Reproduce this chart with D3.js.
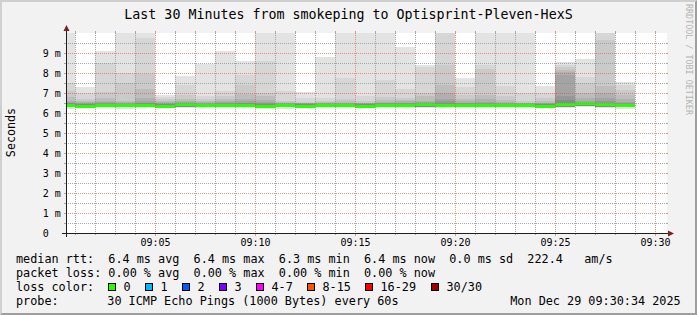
<!DOCTYPE html>
<html>
<head>
<meta charset="utf-8">
<script src="https://cdn.jsdelivr.net/npm/d3@7"></script>
<style>
  body { margin: 0; background: #f2f2f2; }
  svg { display: block; }
  text { font-family: "DejaVu Sans Mono", monospace; white-space: pre; }
</style>
</head>
<body>
<svg id="chart" width="697" height="315"></svg>
<script>
// each sample covers the minute that ends at this time
var minutes = ["09:01","09:02","09:03","09:04","09:05","09:06","09:07","09:08","09:09","09:10",
               "09:11","09:12","09:13","09:14","09:15","09:16","09:17","09:18","09:19","09:20",
               "09:21","09:22","09:23","09:24","09:25","09:26","09:27","09:28","09:29"];

// median rtt (ms)
var median = [6.38,6.37,6.38,6.38,6.38,6.37,6.43,6.42,6.38,6.38,
              6.33,6.40,6.37,6.40,6.38,6.36,6.38,6.42,6.43,6.42,
              6.41,6.38,6.38,6.40,6.37,6.44,6.50,6.43,6.38];

// lowest ping and lower edge of the inner smoke (ms)
var pingMin = [6.20,6.25,6.24,6.22,6.24,6.24,6.26,6.26,6.24,6.24,
               6.22,6.21,6.24,6.25,6.24,6.23,6.24,6.25,6.25,6.24,
               6.25,6.24,6.24,6.25,6.24,6.26,6.28,6.25,6.22];
var pingLow = [6.28,6.29,6.28,6.28,6.28,6.29,6.31,6.31,6.29,6.29,
               6.27,6.28,6.28,6.30,6.29,6.28,6.29,6.31,6.31,6.31,
               6.30,6.29,6.29,6.30,6.29,6.32,6.36,6.31,6.28];

// upper edges of the smoke, outermost (highest ping) first; >10 is off the scale
var smoke1 = [10.5,7.30,9.10,10.5,10.5,6.90,7.85,8.47,9.12,8.58,10.5,10.5,7.03,8.80,10.5,10.5,10.5,9.30,8.40,10.5,7.75,10.5,10.5,10.5,7.33,8.53,8.70,10.5,7.55];
var smoke2 = [7.50,7.00,8.52,8.00,9.75,6.80,7.38,6.85,7.10,7.92,8.62,7.08,6.75,6.75,7.75,6.83,7.67,7.20,8.30,10.5,7.28,8.42,7.33,7.00,7.00,8.42,7.78,10.5,7.38];
var smoke3 = [7.08,6.72,7.05,7.52,7.95,6.70,6.92,6.68,6.83,7.42,7.00,6.60,6.57,6.62,6.70,6.58,6.80,6.75,7.00,8.42,6.92,8.22,6.83,6.58,6.75,8.28,7.50,9.67,7.17];
var smoke4 = [6.80,6.60,6.75,6.60,7.22,6.60,6.70,6.60,6.72,6.97,6.83,6.53,6.52,6.55,6.58,6.52,6.67,6.65,6.83,7.42,6.72,6.92,6.67,6.52,6.60,8.15,7.00,7.33,6.92];
var smoke5 = [6.60,6.55,6.62,6.55,6.75,6.55,6.60,6.55,6.62,6.72,6.65,6.50,6.50,6.50,6.52,6.50,6.57,6.58,6.62,7.00,6.58,6.72,6.55,6.50,6.52,8.05,6.75,7.00,6.72];
var smoke6 = [6.55,6.50,6.55,6.50,6.60,6.50,6.55,6.50,6.55,6.60,6.57,6.48,6.48,6.48,6.50,6.48,6.52,6.52,6.55,6.72,6.52,6.57,6.50,6.48,6.48,7.90,6.58,6.75,6.57];
var smoke7 = [6.50,6.47,6.50,6.47,6.52,6.47,6.50,6.47,6.50,6.52,6.50,6.46,6.46,6.46,6.47,6.46,6.48,6.48,6.50,6.58,6.48,6.50,6.47,6.46,6.46,6.83,6.50,6.58,6.50];
var smoke8 = [6.48,6.45,6.47,6.45,6.48,6.45,6.47,6.45,6.47,6.48,6.47,6.44,6.44,6.44,6.45,6.44,6.45,6.45,6.46,6.50,6.45,6.46,6.45,6.44,6.44,6.67,6.46,6.50,6.46];

var yTicks = [0,1,2,3,4,5,6,7,8,9];
var xLabels = ["09:05","09:10","09:15","09:20","09:25","09:30"];

var lossLabels = ["0","1","2","3","4-7","8-15","16-29","30/30"];
var lossColors = ["#26ff00","#00b8ff","#0059ff","#7e00ff","#ff00ff","#ff5500","#ff0000","#a10000"];

var smokeShades = ["#e3e3e3","#d6d6d6","#cacaca","#bdbdbd","#b0b0b0","#a4a4a4","#979797","#8a8a8a"];
var smokeLevels = [smoke1, smoke2, smoke3, smoke4, smoke5, smoke6, smoke7, smoke8];

var W = 697, H = 315;
var svg = d3.select("#chart");

var parseT = d3.timeParse("%H:%M:%S");
var x = d3.scaleTime()
    .domain([parseT("09:00:34"), parseT("09:30:34")])
    .range([66, 666]);
var y = d3.scaleLinear()
    .domain([0, 10])
    .range([233, 33])
    .clamp(true);

var x0 = x.range()[0], x1 = x.range()[1];
var y0 = y.range()[0], y1 = y.range()[1];

// background + bevel frame
svg.append("rect").attr("width", W).attr("height", H).attr("fill", "#f2f2f2");
svg.append("path").attr("fill", "#cfcfcf")
    .attr("d", "M0,0H" + W + "L" + (W - 2) + ",2H2V" + (H - 2) + "L0," + H + "Z");
svg.append("path").attr("fill", "#9e9e9e")
    .attr("d", "M0," + H + "H" + W + "V0L" + (W - 2) + ",2V" + (H - 2) + "H2Z");

// canvas
svg.append("rect").attr("x", x0).attr("y", y1)
    .attr("width", x1 - x0 + 1).attr("height", y0 - y1)
    .attr("fill", "#ffffff");

svg.append("clipPath").attr("id", "plot")
  .append("rect").attr("x", x0).attr("y", y1)
    .attr("width", x1 - x0 + 1).attr("height", y0 - y1);

var cols = minutes.map(function(m, i) {
  var end = parseT(m + ":00");
  return {i: i, start: d3.timeMinute.offset(end, -1), end: end};
});

var g = svg.append("g").attr("clip-path", "url(#plot)").attr("shape-rendering", "crispEdges");

// smoke, outer bands first, darker ones over them
smokeLevels.forEach(function(level, k) {
  g.append("g").selectAll("rect")
    .data(cols)
    .enter().append("rect")
      .attr("x", function(d) { return x(d.start); })
      .attr("width", function(d) { return x(d.end) - x(d.start); })
      .attr("y", function(d) { return y(level[d.i]); })
      .attr("height", function(d) {
        var lo = k === 0 ? pingMin[d.i] : pingLow[d.i];
        return y(lo) - y(level[d.i]);
      })
      .attr("fill", smokeShades[k]);
});

// median, coloured by loss (all 0 here)
g.append("g").selectAll("rect")
  .data(cols)
  .enter().append("rect")
    .attr("x", function(d) { return x(d.start); })
    .attr("width", function(d) { return x(d.end) - x(d.start); })
    .attr("y", function(d) { return Math.round(y(median[d.i])) - 1.5; })
    .attr("height", 3)
    .attr("fill", lossColors[0]);

// grid
var gridCol = "rgba(143,143,143,0.75)", mgridCol = "rgba(222,79,79,0.6)";
var grid = svg.append("g").attr("shape-rendering", "crispEdges");

var minorT = d3.timeMinute.range(x.domain()[0], x.domain()[1]);
minorT.forEach(function(t) {
  var px = Math.round(x(t)) + 0.5;
  var major = t.getMinutes() % 5 === 0;
  var c = major ? mgridCol : gridCol;
  grid.append("line").attr("x1", px).attr("x2", px).attr("y1", y0 + 1).attr("y2", y1)
      .attr("stroke", c).attr("stroke-dasharray", "1,1");
  grid.append("line").attr("x1", px).attr("x2", px).attr("y1", y0).attr("y2", y0 + (major ? 3 : 2))
      .attr("stroke", c);
  grid.append("line").attr("x1", px).attr("x2", px).attr("y1", y1 - 2).attr("y2", y1)
      .attr("stroke", c);
});

d3.range(0.5, 10, 0.5).forEach(function(v) {
  var py = Math.round(y(v)) + 0.5;
  var major = v % 1 === 0;
  var c = major ? mgridCol : gridCol;
  grid.append("line").attr("x1", x0).attr("x2", x1).attr("y1", py).attr("y2", py)
      .attr("stroke", c).attr("stroke-dasharray", "1,1");
  grid.append("line").attr("x1", x0 - 2).attr("x2", x0).attr("y1", py).attr("y2", py).attr("stroke", c);
  grid.append("line").attr("x1", x1).attr("x2", x1 + 2).attr("y1", py).attr("y2", py).attr("stroke", c);
});

// axes with arrows
var axisCol = "#1f1f1f", arrowCol = "#801f1f";
grid.append("line").attr("x1", x0 - 4).attr("x2", x1 + 4).attr("y1", y0 + 0.5).attr("y2", y0 + 0.5).attr("stroke", axisCol);
grid.append("line").attr("x1", x0 + 0.5).attr("x2", x0 + 0.5).attr("y1", y0 + 4).attr("y2", y1 - 4).attr("stroke", axisCol);
svg.append("path").attr("fill", arrowCol)
    .attr("d", "M" + (x1 + 2) + "," + (y0 - 2.5) + "L" + (x1 + 2) + "," + (y0 + 3.5) + "L" + (x1 + 8) + "," + (y0 + 0.5) + "Z");
svg.append("path").attr("fill", arrowCol)
    .attr("d", "M" + (x0 - 2.5) + "," + (y1 - 2) + "L" + (x0 + 3.5) + "," + (y1 - 2) + "L" + (x0 + 0.5) + "," + (y1 - 8) + "Z");

// tick labels
var xt = d3.timeParse("%H:%M");
svg.append("g").selectAll("text")
  .data(xLabels)
  .enter().append("text")
    .attr("x", function(d) { return Math.round(x(xt(d))) + 0.5; })
    .attr("y", 245.7)
    .attr("text-anchor", "middle")
    .attr("font-size", "10px")
    .attr("fill", "#000")
    .text(function(d) { return d; });

svg.append("g").selectAll("text")
  .data(yTicks)
  .enter().append("text")
    .attr("x", 42.7)
    .attr("y", function(d) { return Math.round(y(d)) + 3.8; })
    .attr("font-size", "10px")
    .attr("fill", "#000")
    .text(function(d) { return d === 0 ? "0" : d + " m"; });

// vertical label
svg.append("text")
    .attr("transform", "translate(14.5,132.5) rotate(-90)")
    .attr("text-anchor", "middle")
    .attr("font-size", "11.7px")
    .text("Seconds");

// watermark
svg.append("text")
    .attr("transform", "translate(685.5,4) rotate(90)")
    .attr("font-size", "8.4px")
    .attr("fill", "#b4b4b4")
    .text("RRDTOOL / TOBI OETIKER");

// title
svg.append("text")
    .attr("x", 348.5).attr("y", 18.5)
    .attr("text-anchor", "middle")
    .attr("font-size", "13.3px")
    .text("Last 30 Minutes from smokeping to Optisprint-Pleven-HexS");

// legend
var leg = svg.append("g").attr("font-size", "11.8px").attr("fill", "#000");
leg.append("text").attr("x", 16).attr("y", 263)
    .text("median rtt:  6.4 ms avg  6.4 ms max  6.3 ms min  6.4 ms now  0.0 ms sd  222.4   am/s");
leg.append("text").attr("x", 16).attr("y", 277)
    .text("packet loss: 0.00 % avg  0.00 % max  0.00 % min  0.00 % now");
leg.append("text").attr("x", 16).attr("y", 291).text("loss color:");
leg.append("text").attr("x", 16).attr("y", 304.5).text("probe:");
leg.append("text").attr("x", 107.3).attr("y", 304.5).text("30 ICMP Echo Pings (1000 Bytes) every 60s");
leg.append("text").attr("x", 680.7).attr("y", 304.5).attr("text-anchor", "end").text("Mon Dec 29 09:30:34 2025");

var lx = 108.5;
lossLabels.forEach(function(lab, i) {
  leg.append("rect").attr("x", lx).attr("y", 283.5).attr("width", 7).attr("height", 7)
      .attr("fill", lossColors[i]).attr("stroke", "#000").attr("stroke-width", 1);
  var t = leg.append("text").attr("x", lx + 15).attr("y", 291).text(lab);
  lx = lx + 15 + t.node().getComputedTextLength() + 15;
  lx = Math.round(lx - 0.5) + 0.5;
});
</script>
</body>
</html>
